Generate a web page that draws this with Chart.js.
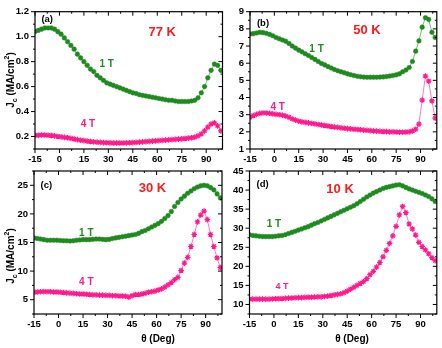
<!DOCTYPE html>
<html><head><meta charset="utf-8">
<script src="https://cdn.jsdelivr.net/npm/chart.js@4.4.0/dist/chart.umd.min.js"></script>
<style>
html,body{margin:0;padding:0;background:#fff;}
#wrap{position:relative;width:442px;height:348px;overflow:hidden;font-family:"Liberation Sans",Arial,sans-serif;}
canvas{position:absolute;left:0;top:0;}
.ytitle{position:absolute;font-weight:bold;font-size:10px;white-space:nowrap;transform:translate(-50%,-50%) rotate(-90deg);color:#000;}
.xtitle{position:absolute;font-weight:bold;font-size:10px;white-space:nowrap;transform:translate(-50%,-50%);color:#000;}
sub,sup{font-size:7px;line-height:0;}
</style></head>
<body><div id="wrap">
<canvas id="ca" width="442" height="348"></canvas>
<canvas id="cb" width="442" height="348"></canvas>
<canvas id="cc" width="442" height="348"></canvas>
<canvas id="cd" width="442" height="348"></canvas>
<div class="ytitle" style="left:10px;top:80px;">J<sub>c</sub> (MA/cm<sup>2</sup>)</div>
<div class="ytitle" style="left:10px;top:256px;">J<sub>c</sub> (MA/cm<sup>2</sup>)</div>
<div class="xtitle" style="left:158px;top:338px;">θ (Deg)</div>
<div class="xtitle" style="left:352px;top:338px;">θ (Deg)</div>
</div>
<script>
// ---------- data ----------
const angles = [-15,-13,-11,-9,-7,-5,-3,-1,1,3,5,7,9,11,13,15,17,19,21,23,25,27,29,31,33,35,37,39,41,43,45,47,49,51,53,55,57,59,61,63,65,67,69,71,73,75,77,79,81,83,85,87,89,91,93,95,97,99];

const jc77K_1T = [1.04,1.05,1.06,1.07,1.07,1.07,1.06,1.04,1.02,0.99,0.96,0.93,0.90,0.86,0.83,0.80,0.77,0.74,0.72,0.69,0.67,0.65,0.63,0.62,0.61,0.60,0.59,0.58,0.57,0.56,0.55,0.545,0.535,0.53,0.525,0.52,0.515,0.51,0.505,0.50,0.495,0.49,0.49,0.485,0.48,0.48,0.48,0.48,0.485,0.49,0.51,0.55,0.60,0.67,0.73,0.78,0.77,0.73];
const jc77K_4T = [0.21,0.21,0.212,0.212,0.21,0.208,0.205,0.20,0.197,0.193,0.19,0.185,0.18,0.175,0.17,0.167,0.163,0.16,0.157,0.155,0.153,0.151,0.15,0.149,0.148,0.148,0.148,0.148,0.149,0.15,0.151,0.153,0.155,0.157,0.159,0.161,0.163,0.165,0.167,0.169,0.171,0.173,0.175,0.177,0.179,0.181,0.184,0.187,0.19,0.195,0.205,0.22,0.245,0.275,0.30,0.31,0.285,0.245];

const jc50K_1T = [7.70,7.72,7.76,7.80,7.78,7.74,7.68,7.60,7.50,7.42,7.35,7.28,7.15,7.00,6.88,6.76,6.66,6.55,6.45,6.33,6.22,6.10,5.98,5.90,5.80,5.72,5.63,5.56,5.50,5.44,5.38,5.33,5.28,5.24,5.21,5.19,5.18,5.18,5.18,5.18,5.19,5.20,5.22,5.25,5.28,5.32,5.38,5.50,5.60,5.75,6.10,6.70,7.30,8.10,8.65,8.55,7.80,7.50];
const jc50K_4T = [2.85,2.95,3.02,3.08,3.10,3.10,3.08,3.05,3.02,3.00,2.97,2.92,2.85,2.75,2.68,2.62,2.58,2.55,2.52,2.49,2.46,2.43,2.40,2.37,2.34,2.31,2.28,2.26,2.23,2.21,2.19,2.17,2.15,2.14,2.12,2.10,2.09,2.07,2.05,2.04,2.03,2.02,2.01,2.00,2.00,1.99,1.98,1.98,1.99,2.00,2.05,2.15,2.45,3.85,5.25,4.95,3.80,2.80];

const jc30K_1T = [15.8,15.7,15.6,15.5,15.4,15.4,15.4,15.4,15.35,15.3,15.3,15.25,15.3,15.4,15.45,15.5,15.5,15.5,15.55,15.6,15.6,15.55,15.5,15.55,15.7,15.8,15.9,16.0,16.1,16.2,16.3,16.4,16.6,16.9,17.1,17.4,17.7,18.0,18.3,18.7,19.2,19.7,20.4,21.3,22.0,22.6,23.1,23.6,24.0,24.4,24.7,24.9,25.0,24.9,24.6,24.2,23.5,22.8];
const jc30K_4T = [6.3,6.35,6.4,6.4,6.4,6.4,6.35,6.35,6.3,6.25,6.2,6.15,6.1,6.05,6.0,6.0,5.95,5.9,5.85,5.85,5.8,5.8,5.75,5.75,5.7,5.7,5.65,5.65,5.6,5.45,5.7,5.9,5.9,6.0,6.1,6.3,6.4,6.5,6.7,6.9,7.2,7.6,8.0,8.5,8.9,10.1,11.4,12.4,14.3,16.4,18.6,19.8,20.5,19.0,16.4,14.3,12.3,10.6];

const jc10K_1T = [28.3,28.1,28.0,27.9,27.8,27.8,27.8,27.8,27.9,28.0,28.1,28.3,28.6,28.9,29.2,29.5,29.8,30.1,30.4,30.8,31.2,31.5,31.9,32.3,32.7,33.1,33.5,33.9,34.3,34.7,35.1,35.5,35.9,36.4,37.0,37.6,38.2,38.7,39.2,39.6,40.0,40.4,40.7,40.9,41.1,41.3,41.4,41.1,40.7,40.3,40.0,39.7,39.4,39.1,38.7,38.3,37.7,37.0];
const jc10K_4T = [11.4,11.4,11.4,11.4,11.4,11.4,11.4,11.45,11.5,11.5,11.55,11.6,11.65,11.7,11.75,11.8,11.8,11.85,11.9,11.9,11.95,12.0,12.0,12.1,12.2,12.35,12.5,12.65,12.8,13.1,13.5,14.0,14.5,15.0,15.5,16.0,16.8,17.8,18.7,19.8,21.0,22.5,24.2,26.0,28.0,30.5,33.5,35.7,34.1,31.1,29.8,28.2,26.3,25.2,24.3,23.3,22.3,21.5];

const xTicks = [-15,0,15,30,45,60,75,90];
const yTicksA = [0.2,0.4,0.6,0.8,1.0,1.2];
const yTicksB = [1,2,3,4,5,6,7,8,9];
const yTicksC = [5,10,15,20,25];
const yTicksD = [10,15,20,25,30,35,40,45];

const seriesNames = ['1 T','4 T'];
const tempLabels = ['77 K','50 K','30 K','10 K'];
const panelTags = ['(a)','(b)','(c)','(d)'];

// ---------- styles ----------
const GREEN = '#1f8a1f', GREEN_LINE = '#6cc36c', PINK = '#ff1a8c', PINK_LINE = '#ff7ac0', RED = '#ff1a1a';
const FONT = '"Liberation Sans", Arial, sans-serif';
const YW = 30, XH = 16, W = 442, H = 348;

function minorVals(majors, lo, hi){
  const step = majors[1]-majors[0], out=[];
  majors.forEach(m=>{ [m-step/2, m+step/2].forEach(v=>{ if(v>=lo-1e-9 && v<=hi+1e-9 && !out.some(o=>Math.abs(o-v)<1e-9)) out.push(v); }); });
  return out;
}

const framePlugin = {
  id:'frame',
  afterDatasetsDraw(chart, args, opts){
    const {ctx, chartArea:a, scales:{x,y}} = chart;
    ctx.save();
    ctx.strokeStyle='#000'; ctx.lineWidth=1.2;
    ctx.strokeRect(a.left, a.top, a.right-a.left, a.bottom-a.top);
    ctx.lineWidth=1;
    const ln=(x1,y1,x2,y2)=>{ctx.beginPath();ctx.moveTo(x1,y1);ctx.lineTo(x2,y2);ctx.stroke();};
    const MJ=4, MN=2;
    x.ticks.forEach(t=>{const p=x.getPixelForValue(t.value); ln(p,a.bottom,p,a.bottom+MJ); ln(p,a.top,p,a.top+MJ);});
    minorVals(x.ticks.map(t=>t.value), x.min, x.max).forEach(v=>{const p=x.getPixelForValue(v); ln(p,a.bottom,p,a.bottom+MN); ln(p,a.top,p,a.top+MN);});
    y.ticks.forEach(t=>{const p=y.getPixelForValue(t.value); ln(a.left-MJ,p,a.left,p); ln(a.right-MJ,p,a.right,p);});
    minorVals(y.ticks.map(t=>t.value), y.min, y.max).forEach(v=>{const p=y.getPixelForValue(v); ln(a.left-MN,p,a.left,p); ln(a.right-MN,p,a.right,p);});
    (opts.notes||[]).forEach(n=>{
      ctx.font = n.font; ctx.fillStyle = n.color; ctx.textAlign='center'; ctx.textBaseline='middle';
      ctx.fillText(n.text, x.getPixelForValue(n.x), y.getPixelForValue(n.y));
    });
    ctx.restore();
  }
};

function makePanel(id, s1, s4, yMin, yMax, yTicks, decimals, area, notes){
  new Chart(document.getElementById(id), {
    type:'line',
    data:{ datasets:[
      { label:seriesNames[0], data:angles.map((a,i)=>({x:a,y:s1[i]})), borderColor:GREEN_LINE, borderWidth:1,
        pointStyle:'circle', pointRadius:2.3, pointBackgroundColor:GREEN, pointBorderColor:GREEN, pointBorderWidth:0.5, tension:0 },
      { label:seriesNames[1], data:angles.map((a,i)=>({x:a,y:s4[i]})), borderColor:PINK_LINE, borderWidth:1,
        pointStyle:'star', pointRadius:2.8, pointBackgroundColor:PINK, pointBorderColor:PINK, pointBorderWidth:1.2, tension:0 }
    ]},
    options:{
      responsive:false, animation:false, devicePixelRatio:1,
      layout:{ padding:{ left:area.l-YW, right:W-area.r, top:area.t, bottom:H-area.b-XH } },
      plugins:{ legend:{display:false}, tooltip:{enabled:false}, frame:{notes} },
      scales:{
        x:{ type:'linear', min:-15, max:100, grid:{display:false, drawTicks:false, tickLength:0}, border:{display:false},
            afterBuildTicks:s=>{ s.ticks = xTicks.map(v=>({value:v})); },
            afterFit:s=>{ s.height = XH; },
            ticks:{ color:'#000', font:{family:FONT, size:9.5, weight:'bold'}, padding:5, maxRotation:0, autoSkip:false, callback:v=>String(v) } },
        y:{ type:'linear', min:yMin, max:yMax, grid:{display:false, drawTicks:false, tickLength:0}, border:{display:false},
            afterBuildTicks:s=>{ s.ticks = yTicks.map(v=>({value:v})); },
            afterFit:s=>{ s.width = YW; },
            ticks:{ color:'#000', font:{family:FONT, size:9.5, weight:'bold'}, padding:6, autoSkip:false, callback:v=>Number(v).toFixed(decimals) } }
      }
    },
    plugins:[framePlugin]
  });
}

const tagFont = 'bold 9.5px '+FONT, tempFont = 'bold 13px '+FONT, serFont = 'bold 10px '+FONT;

makePanel('ca', jc77K_1T, jc77K_4T, 0.1, 1.2, yTicksA, 1, {l:35,r:222.5,t:6,b:149}, [
  {text:panelTags[0], x:-7.5, y:1.14, font:tagFont, color:'#000'},
  {text:tempLabels[0], x:63, y:1.03, font:tempFont, color:RED},
  {text:seriesNames[0], x:29, y:0.78, font:serFont, color:GREEN},
  {text:seriesNames[1], x:17.5, y:0.30, font:serFont, color:PINK}
]);
makePanel('cb', jc50K_1T, jc50K_4T, 1, 9, yTicksB, 0, {l:250,r:438,t:6,b:149}, [
  {text:panelTags[1], x:-7, y:8.3, font:tagFont, color:'#000'},
  {text:tempLabels[1], x:57, y:7.9, font:tempFont, color:RED},
  {text:seriesNames[0], x:26, y:6.8, font:serFont, color:GREEN},
  {text:seriesNames[1], x:2, y:3.45, font:serFont, color:PINK}
]);
makePanel('cc', jc30K_1T, jc30K_4T, 2.5, 27.5, yTicksC, 0, {l:34,r:222,t:171,b:314}, [
  {text:panelTags[2], x:-7.4, y:24.9, font:tagFont, color:'#000'},
  {text:tempLabels[2], x:57.5, y:24.4, font:tempFont, color:RED},
  {text:seriesNames[0], x:17, y:16.6, font:serFont, color:GREEN},
  {text:seriesNames[1], x:17, y:8.0, font:serFont, color:PINK}
]);
makePanel('cd', jc10K_1T, jc10K_4T, 7.5, 45, yTicksD, 0, {l:249.5,r:438,t:171,b:314}, [
  {text:panelTags[3], x:-7, y:41.4, font:tagFont, color:'#000'},
  {text:tempLabels[3], x:40.6, y:40.3, font:tempFont, color:RED},
  {text:seriesNames[0], x:0, y:31, font:serFont, color:GREEN},
  {text:seriesNames[1], x:5, y:14.7, font:'bold 9px '+FONT, color:PINK}
]);
</script>
</body></html>
